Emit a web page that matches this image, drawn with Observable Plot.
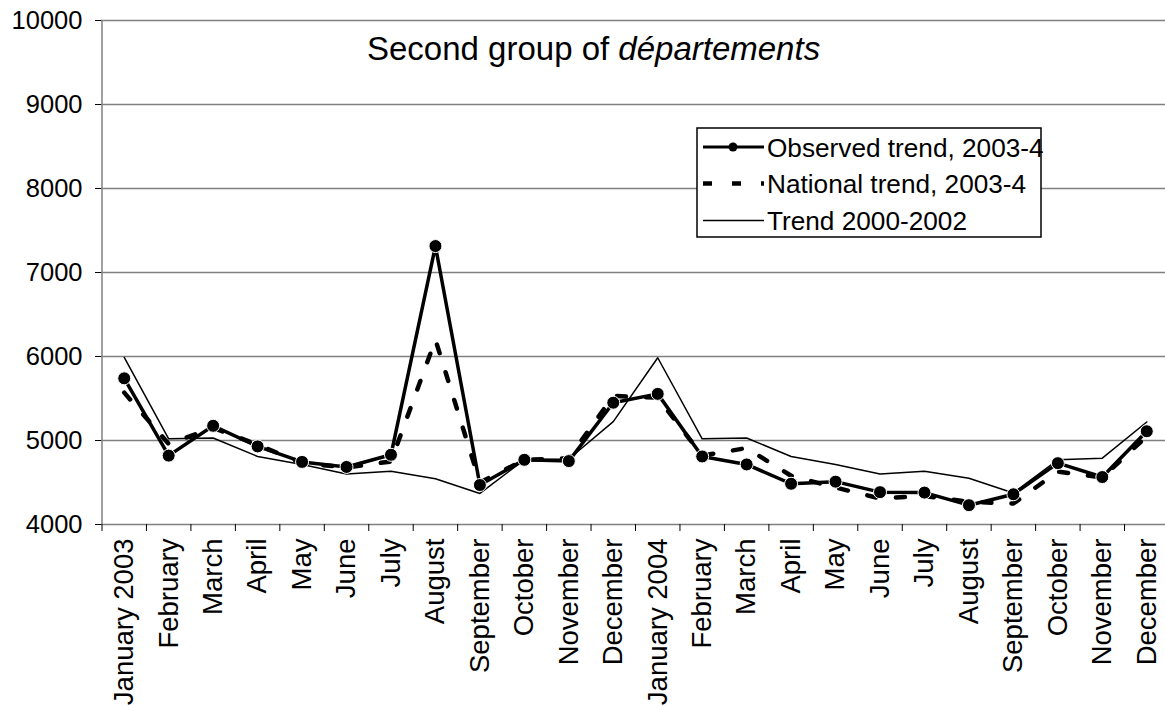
<!DOCTYPE html>
<html><head><meta charset="utf-8">
<script src="https://cdn.jsdelivr.net/npm/d3@7"></script>
<script src="https://cdn.jsdelivr.net/npm/@observablehq/plot@0.6"></script>
<style>
html,body{margin:0;padding:0;background:#fff;overflow:hidden}
#wrap{position:relative;width:1165px;height:706px}
#overlay{position:absolute;left:0;top:0;pointer-events:none}
</style></head><body><div id="wrap"></div>
<script>
const months = ["January 2003","February","March","April","May","June","July","August","September","October","November","December",
  "January 2004","February","March","April","May","June","July","August","September","October","November","December"];
const observed = [5740, 4820, 5175, 4930, 4745, 4685, 4830, 7315, 4470, 4770, 4755, 5450,
  5555, 4810, 4715, 4485, 4510, 4385, 4380, 4230, 4360, 4730, 4565, 5110];
const national = [5570, 4960, 5150, 4950, 4730, 4680, 4750, 6200, 4500, 4770, 4790, 5530,
  5510, 4820, 4910, 4580, 4440, 4310, 4340, 4270, 4250, 4630, 4560, 5050];
const trend2000 = [5990, 5020, 5030, 4810, 4715, 4600, 4635, 4545, 4370, 4770, 4780, 5225,
  5985, 5020, 5030, 4810, 4715, 4600, 4635, 4550, 4375, 4770, 4790, 5220];
const yTicks = [4000, 5000, 6000, 7000, 8000, 9000, 10000];
const titlePlain = "Second group of ";
const titleItalic = "départements";
const seriesNames = ["Observed trend, 2003-4", "National trend, 2003-4", "Trend 2000-2002"];

const rows = months.map((m, i) => ({i, month: m, observed: observed[i], national: national[i], trend: trend2000[i]}));
const font = "Arial, 'Liberation Sans', Helvetica, sans-serif";

const chart = Plot.plot({
  width: 1165, height: 706,
  marginLeft: 101, marginRight: 0, marginTop: 20, marginBottom: 182,
  style: {fontFamily: font, color: "#000", background: "#fff"},
  x: {type: "linear", domain: [-0.5, 23.5], range: [101.5, 1168.5]},
  y: {domain: [4000, 10000]},
  marks: [
    Plot.gridY(yTicks.slice(1), {stroke: "#808080", strokeOpacity: 1, strokeWidth: 1.5}),
    Plot.ruleY([4000], {stroke: "#808080", strokeWidth: 1.5}),
    Plot.ruleX([-0.5], {stroke: "#808080", strokeWidth: 1.5}),
    Plot.axisY({ticks: yTicks, tickSize: 6, tickPadding: 13, fontSize: 25.5, tickFormat: d => String(d), label: null}),
    Plot.axisX({ticks: d3.range(25).map(k => k - 0.5), tickSize: 7, tickFormat: () => "", label: null, strokeWidth: 1}),
    Plot.axisX({ticks: d3.range(24), tickSize: 0, tickRotate: -90, tickPadding: 14, fontSize: 27.5, tickFormat: i => months[i], label: null}),
    Plot.line(rows, {x: "i", y: "trend", stroke: "#000", strokeWidth: 1.5}),
    Plot.line(rows, {x: "i", y: "national", stroke: "#000", strokeWidth: 4.5, strokeDasharray: "9,20"}),
    Plot.line(rows, {x: "i", y: "observed", stroke: "#000", strokeWidth: 3.5}),
    Plot.dot(rows, {x: "i", y: "observed", r: 6.5, fill: "#000", stroke: "#fff", strokeWidth: 1})
  ]
});
const wrap = document.getElementById("wrap");
wrap.appendChild(chart);

// Overlay: title and legend
const ov = d3.select(wrap).append("svg").attr("id", "overlay")
  .attr("width", 1165).attr("height", 706)
  .style("font-family", font);
const t = ov.append("text").attr("x", 367).attr("y", 60).attr("font-size", 33).attr("fill", "#000");
t.append("tspan").text(titlePlain);
t.append("tspan").attr("font-style", "italic").text(titleItalic);

const lg = ov.append("g");
lg.append("rect").attr("x", 697).attr("y", 128).attr("width", 344).attr("height", 109)
  .attr("fill", "#fff").attr("stroke", "#000").attr("stroke-width", 1.5);
const lineY = [147, 183.5, 220.5];
const textY = [156.5, 193, 230];
seriesNames.forEach((name, k) => {
  const g = lg.append("g");
  if (k === 0) {
    g.append("line").attr("x1", 703).attr("x2", 764).attr("y1", lineY[k]).attr("y2", lineY[k]).attr("stroke", "#000").attr("stroke-width", 3);
    g.append("circle").attr("cx", 733).attr("cy", lineY[k]).attr("r", 4.5).attr("fill", "#000");
  } else if (k === 1) {
    g.append("line").attr("x1", 703).attr("x2", 764).attr("y1", lineY[k]).attr("y2", lineY[k]).attr("stroke", "#000").attr("stroke-width", 4.5).attr("stroke-dasharray", "9,20");
  } else {
    g.append("line").attr("x1", 703).attr("x2", 764).attr("y1", lineY[k]).attr("y2", lineY[k]).attr("stroke", "#000").attr("stroke-width", 1.5);
  }
  g.append("text").attr("x", 767).attr("y", textY[k]).attr("font-size", 26.2).attr("fill", "#000").text(name);
});
</script></body></html>
